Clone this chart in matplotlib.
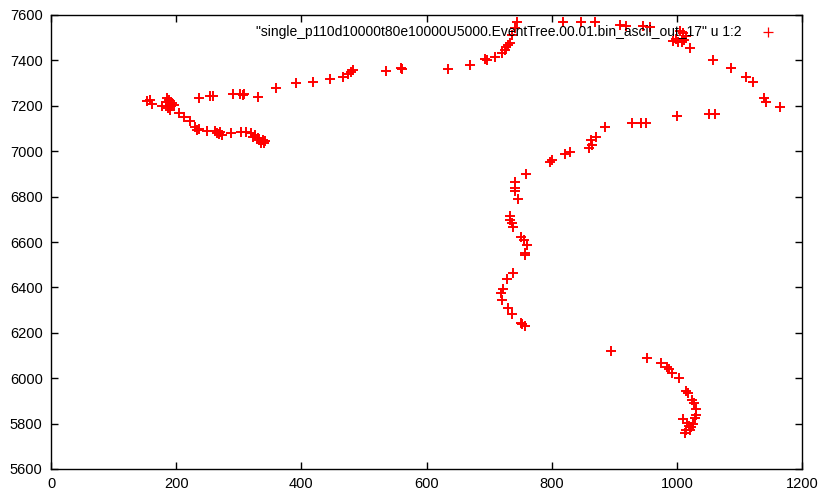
import numpy as np
import matplotlib.pyplot as plt

plt.rcParams['font.family'] = ['Liberation Sans', 'DejaVu Sans']

# data (x = column 1, y = column 2)
xs_left = [154, 158, 162, 177, 184, 186, 188, 190, 187, 192, 194, 190, 196, 204, 213, 222,
           230, 234, 237, 250, 262, 265, 268, 270, 274, 287, 303, 311, 319, 323, 326, 330,
           332, 335, 338, 340, 336, 342]
ys_left = [7221, 7224, 7208, 7200, 7215, 7233, 7225, 7205, 7190, 7198, 7211, 7180, 7205, 7170,
           7152, 7134, 7105, 7093, 7100, 7090, 7088, 7080, 7076, 7085, 7071, 7082, 7086, 7086,
           7079, 7064, 7070, 7057, 7050, 7042, 7048, 7038, 7035, 7044]

xs_top = [236, 254, 259, 291, 302, 306, 309, 330, 360, 392, 418, 446, 466, 474, 480, 482,
          535, 560, 561, 634, 670, 693, 697, 710, 721, 725, 727, 730, 733, 737, 741, 744,
          818, 847, 869, 909, 919, 946, 957, 1005, 1010, 1015, 994, 1002, 1008, 998, 1012,
          1021, 1058, 1086, 1111, 1122, 1140, 1143, 1165]
ys_top = [7236, 7243, 7243, 7252, 7250, 7248, 7252, 7240, 7280, 7299, 7306, 7317, 7328, 7339,
          7350, 7358, 7355, 7365, 7361, 7362, 7380, 7405, 7402, 7414, 7431, 7446, 7458, 7468,
          7475, 7512, 7541, 7570, 7568, 7570, 7570, 7556, 7552, 7552, 7549, 7531, 7519, 7507,
          7487, 7483, 7483, 7495, 7490, 7456, 7402, 7368, 7328, 7306, 7233, 7218, 7196]

xs_mid = [1000, 1052, 1061, 929, 942, 951, 886, 871, 863, 865, 860, 830, 822, 801, 797, 759,
          742, 741, 742, 747, 734, 734, 737, 738, 751, 755, 761, 758, 757, 738, 728, 723,
          719, 721, 730, 737, 751, 757, 753]
ys_mid = [7155, 7163, 7163, 7123, 7123, 7126, 7108, 7064, 7049, 7027, 7013, 6995, 6986, 6961,
          6951, 6900, 6863, 6837, 6826, 6789, 6715, 6697, 6685, 6667, 6623, 6609, 6587, 6550,
          6543, 6462, 6437, 6393, 6374, 6345, 6308, 6283, 6245, 6230, 6238]

xs_low = [895, 953, 974, 985, 988, 993, 1004, 1015, 1018, 1025, 1027, 1030, 1030, 1029, 1010,
          1017, 1023, 1014, 1013, 1021, 1019, 1026]
ys_low = [6120, 6088, 6066, 6051, 6039, 6024, 6000, 5945, 5936, 5904, 5892, 5863, 5838, 5823,
          5819, 5801, 5786, 5772, 5757, 5772, 5790, 5800]

x = np.array(xs_left + xs_top + xs_mid + xs_low)
y = np.array(ys_left + ys_top + ys_mid + ys_low)

label = '"single_p110d10000t80e10000U5000.EventTree.00.01.bin_ascii_out_17" u 1:2'

fig = plt.figure(figsize=(8.19, 4.91), dpi=100)
ax = fig.add_axes([51/819, 1 - 469/491, (802 - 51)/819, (469 - 15)/491])

ax.plot(x, y, '+', color='red', ms=6.5, mew=1.4, label=label)

ax.set_xlim(0, 1200)
ax.set_ylim(5600, 7600)
ax.set_xticks(np.arange(0, 1201, 200))
ax.set_yticks(np.arange(5600, 7601, 200))
ax.tick_params(direction='in', length=5, width=1, top=True, right=True, labelsize=10.5, pad=6)
for s in ax.spines.values():
    s.set_linewidth(1)

# gnuplot style key: text first, sample marker on the right
leg = ax.legend(loc='upper right', bbox_to_anchor=(0.964, 0.977), markerfirst=False,
                frameon=False, fontsize=10, handlelength=1.0, handletextpad=1.37,
                borderpad=0, borderaxespad=0)
leg.legend_handles[0].set_markeredgewidth(0.9)

fig.savefig('out.png', dpi=100)
